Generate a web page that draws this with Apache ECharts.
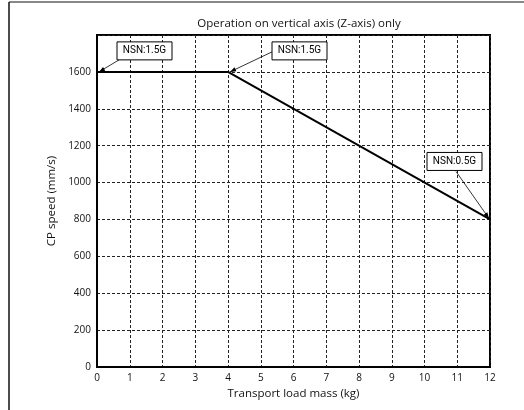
<!DOCTYPE html>
<html><head><meta charset="utf-8">
<script src="https://cdn.jsdelivr.net/npm/echarts@6/dist/echarts.min.js"></script>
<style>html,body{margin:0;padding:0;background:#fff}#c{width:524px;height:410px}</style>
</head><body><div id="c"></div>
<script>
var massKg = [0, 4, 12];
var speed = [1600, 1600, 800];
var xTicks = [0,1,2,3,4,5,6,7,8,9,10,11,12];
var yTicks = [0,200,400,600,800,1000,1200,1400,1600];
var noteText = ['NSN:1.5G', 'NSN:1.5G', 'NSN:0.5G'];
var notePoint = [[0,1600],[4,1600],[12,800]];
// box offsets (pixels) relative to the annotated point: box left, top; arrow start
var noteLayout = [
  {bx: 20, by: -30, ax: 22, ay: -12},
  {bx: 44, by: -30, ax: 44, ay: -20},
  {bx: -63, by: -67, ax: -34, ay: -48}
];
var FONT = '"Roboto", "Open Sans", sans-serif';
var chart = echarts.init(document.getElementById('c'));
var data = massKg.map(function(m,i){return [m, speed[i]];});
chart.setOption({
  animation: false,
  title: {text: 'Operation on vertical axis (Z-axis) only', left: 294, top: 13, textAlign: 'center',
    textStyle: {fontFamily: '"Open Sans", sans-serif', fontSize: 11.5, fontWeight: 'normal', color: '#111'}},
  grid: {left: 97, right: 34, top: 35, bottom: 43, show: true, borderColor: '#000', borderWidth: 2},
  xAxis: {type: 'value', min: 0, max: 12, interval: 1,
    name: 'Transport load mass (kg)', nameLocation: 'middle', nameGap: 18,
    nameTextStyle: {fontFamily: '"Open Sans", sans-serif', fontSize: 11.5, color: '#111'},
    axisLine: {lineStyle: {color: '#000', width: 2}}, axisTick: {show: false},
    axisLabel: {margin: 6, fontFamily: '"Open Sans", sans-serif', fontSize: 10, color: '#111',
      formatter: function(v){return xTicks.indexOf(v) >= 0 ? String(v) : '';}},
    splitLine: {lineStyle: {type: [3,2], color: '#222', width: 1}}},
  yAxis: {type: 'value', min: 0, max: 1800, interval: 200,
    name: 'CP speed (mm/s)', nameLocation: 'middle', nameGap: 37,
    nameTextStyle: {fontFamily: '"Open Sans", sans-serif', fontSize: 11.5, color: '#111'},
    axisLine: {lineStyle: {color: '#000', width: 2}}, axisTick: {show: false},
    axisLabel: {margin: 6, fontFamily: '"Open Sans", sans-serif', fontSize: 10, color: '#111',
      formatter: function(v){return yTicks.indexOf(v) >= 0 ? String(v) : '';}},
    splitLine: {lineStyle: {type: [3,2], color: '#222', width: 1}}},
  series: [{type: 'line', data: data, symbol: 'none', lineStyle: {color: '#000', width: 2}}]
});
var g = [
  {type: 'line', shape: {x1: 9, y1: 2, x2: 524, y2: 2}, style: {stroke: '#888', lineWidth: 2}},
  {type: 'line', shape: {x1: 9, y1: 2, x2: 9, y2: 410}, style: {stroke: '#111', lineWidth: 1.5}}
];
notePoint.forEach(function(p, i){
  var px = chart.convertToPixel({gridIndex: 0}, p);
  var L = noteLayout[i];
  var bx = px[0] + L.bx, by = px[1] + L.by;
  g.push({type: 'rect', shape: {x: bx, y: by, width: 55, height: 18}, style: {fill: '#fff', stroke: '#000', lineWidth: 1}, z: 10});
  g.push({type: 'text', x: bx + 27.5, y: by + 9, style: {text: noteText[i], fontFamily: FONT, fontSize: 10, fill: '#000', align: 'center', verticalAlign: 'middle'}, z: 11});
  var sx = px[0] + L.ax, sy = px[1] + L.ay, ex = px[0] + (i===2 ? -1 : 2), ey = px[1] + (i===2 ? -1 : 0);
  g.push({type: 'line', shape: {x1: sx, y1: sy, x2: ex, y2: ey}, style: {stroke: '#000', lineWidth: 0.8}, z: 10});
  var ang = Math.atan2(ey - sy, ex - sx), len = 6, w = 2.2;
  var bxp = ex - len*Math.cos(ang), byp = ey - len*Math.sin(ang);
  g.push({type: 'polygon', shape: {points: [[ex, ey], [bxp - w*Math.sin(ang), byp + w*Math.cos(ang)], [bxp + w*Math.sin(ang), byp - w*Math.cos(ang)]]}, style: {fill: '#000'}, z: 10});
});
chart.setOption({graphic: g});
</script></body></html>
